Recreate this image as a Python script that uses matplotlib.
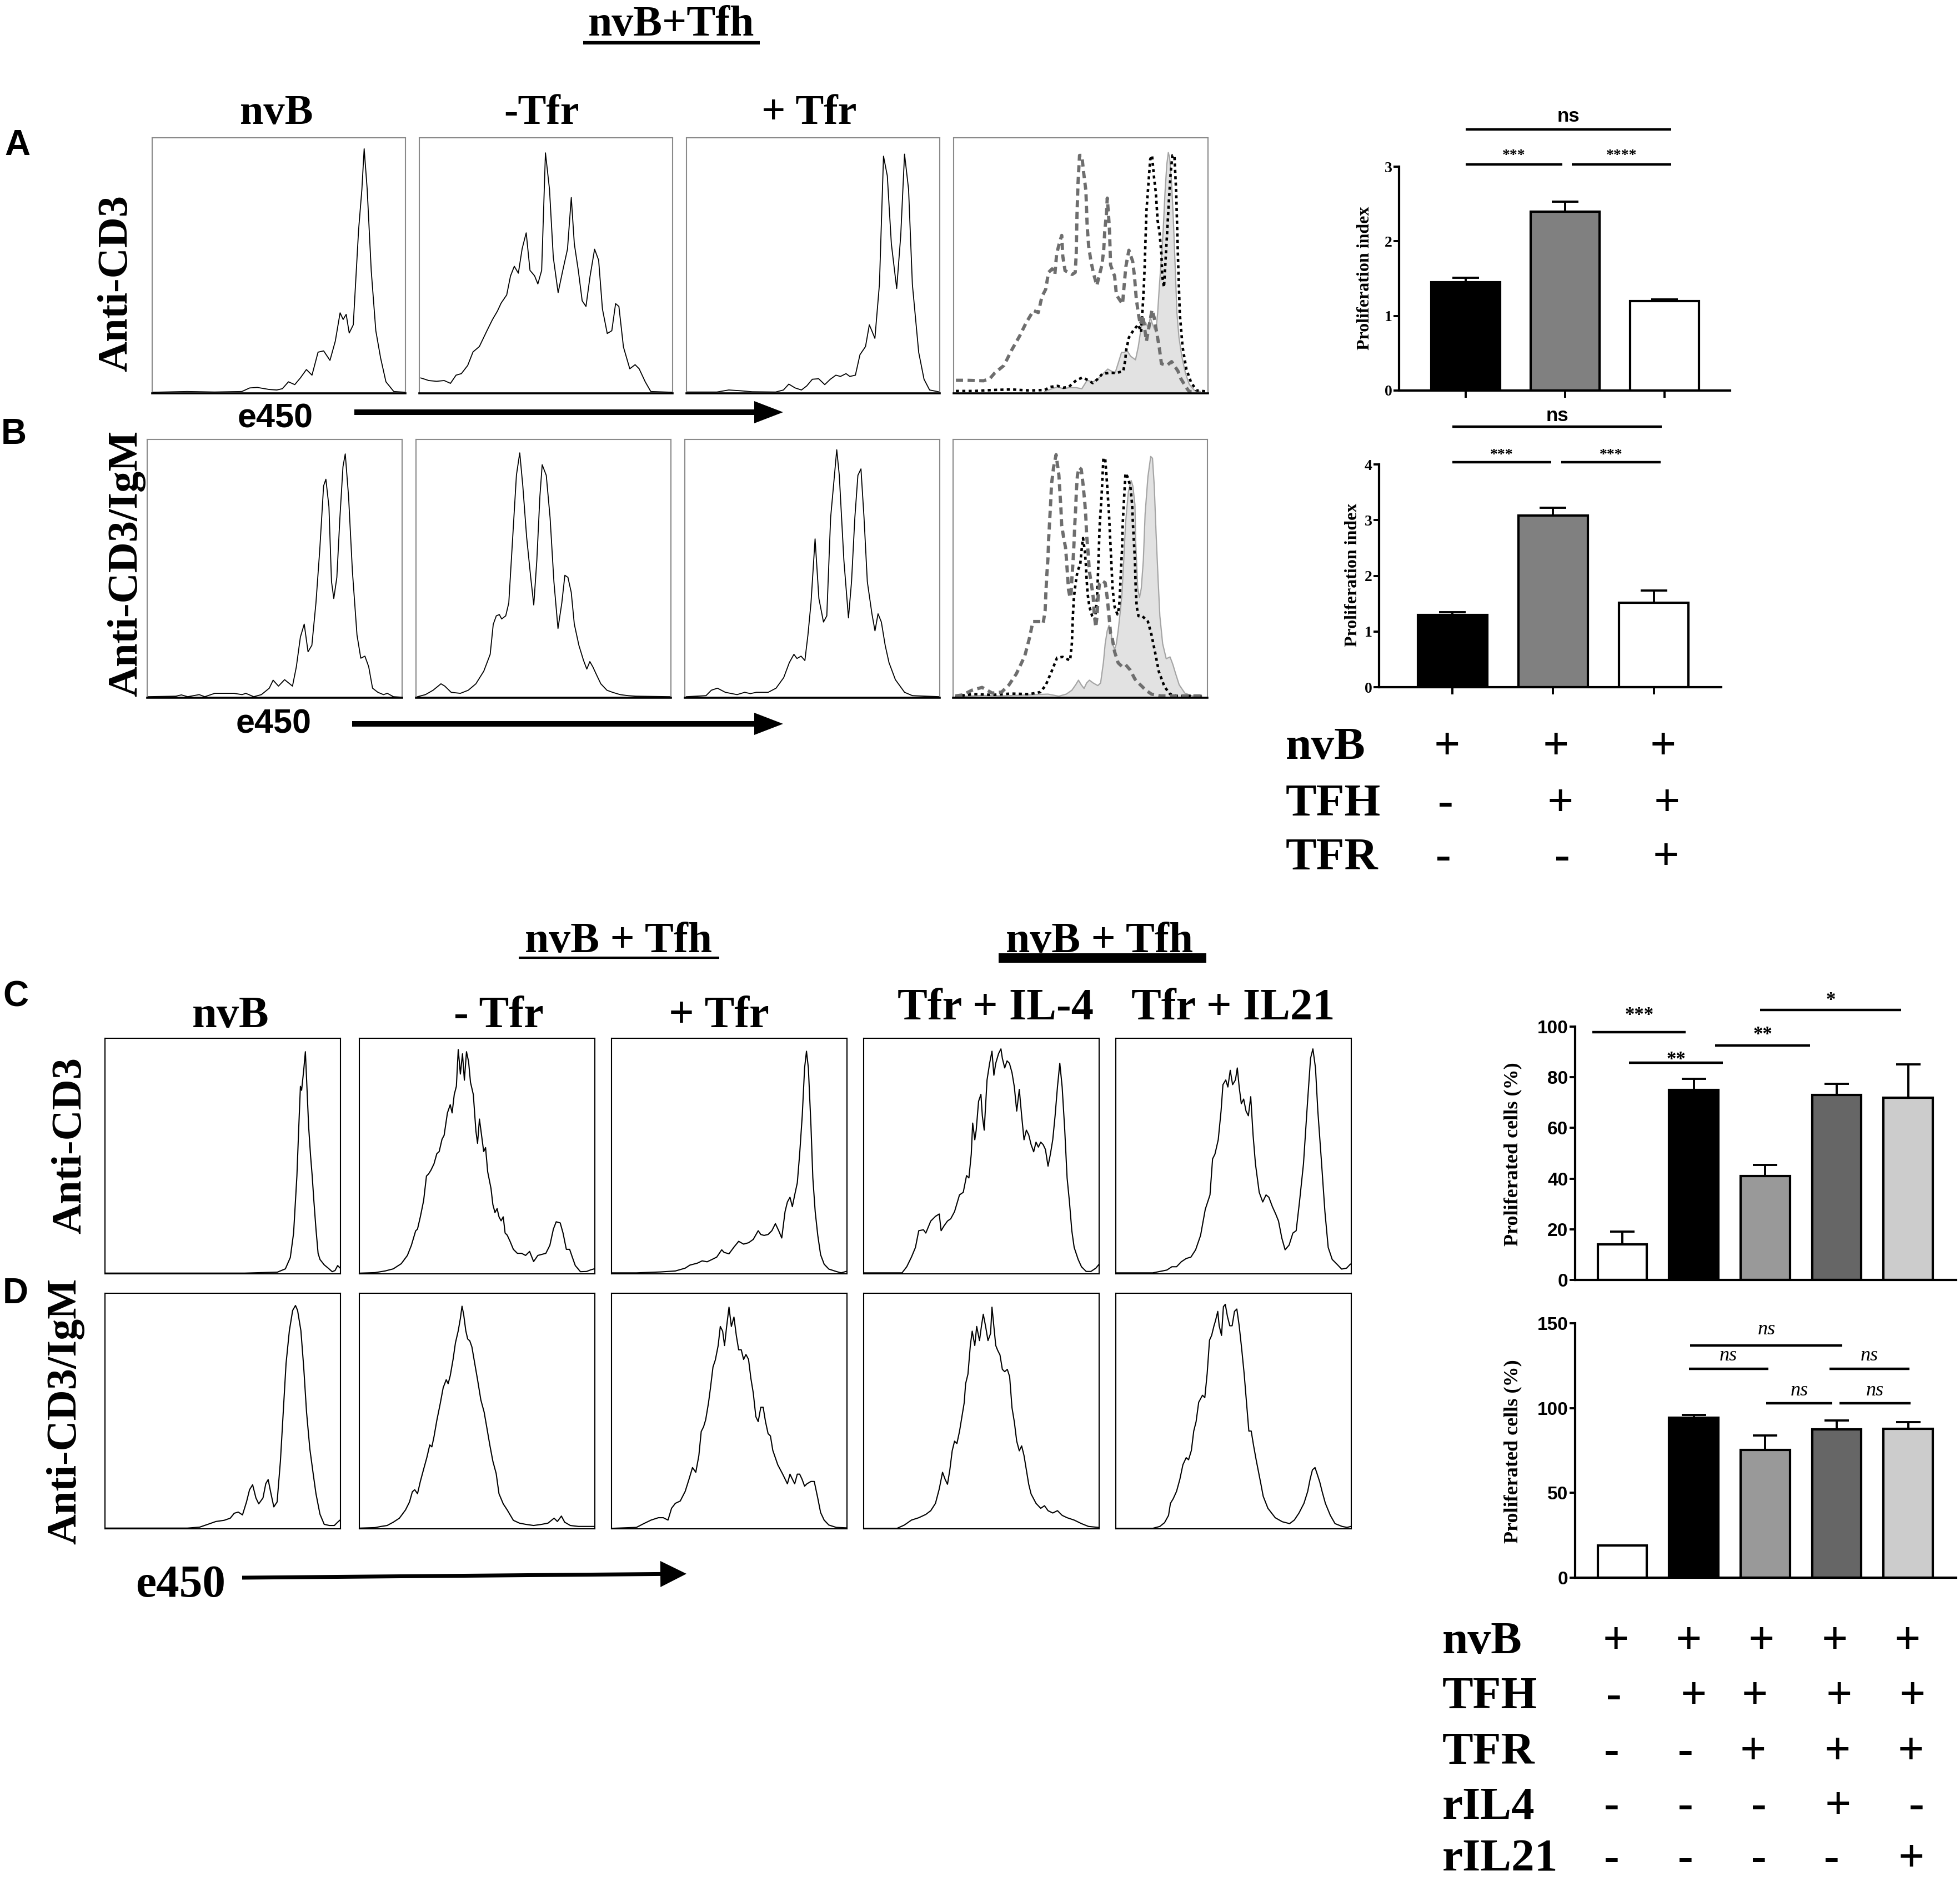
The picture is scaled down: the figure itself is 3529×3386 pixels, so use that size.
import numpy as np
import matplotlib
matplotlib.use("Agg")
from matplotlib import pyplot as plt
from matplotlib.patches import Rectangle

W, H = 3530, 3386
SERIF = "Liberation Serif"
SANS = "Liberation Sans"

# ---------------- histogram traces (x: % of box width, y: % of box height) ----------------
# panel A, anti-CD3
a_nvb = [(0, 0.4), (13.8, 0.7), (24.6, 0.5), (35.4, 0.7), (38.5, 2.1), (41.5, 2.3), (46.2, 1.5), (49.2, 1.3),
         (51.4, 1.8), (53.8, 4.5), (56.3, 3.4), (58.5, 6.0), (60.9, 9.3), (63.1, 7.1), (65.5, 16.1), (67.7, 16.6),
         (70.2, 12.9), (72.3, 20.4), (74.2, 31.5), (75.4, 28.9), (76.6, 30.9), (77.8, 23.6), (79.4, 26.8),
         (81.5, 63.9), (82.8, 79.8), (83.7, 95.7), (84.9, 79.8), (86.5, 47.9), (88.3, 24.5), (90.2, 13.8),
         (92.3, 4.5), (95.4, 0.7), (100, 0.4)]
a_notfr = [(0.6, 6.0), (2.2, 5.5), (3.7, 5.0), (6.8, 4.7), (9.8, 5.0), (12.3, 3.9), (14.5, 7.1), (16.6, 7.7),
           (19.1, 10.9), (21.2, 16.2), (23.7, 18.3), (26.8, 24.7), (28.9, 28.9), (30.8, 32.1), (32.3, 35.3),
           (34.5, 38.5), (36.0, 45.9), (37.5, 49.7), (39.1, 47.0), (40.6, 56.6), (42.2, 62.8), (43.7, 48.1),
           (45.5, 46.0), (46.8, 42.8), (48.3, 48.1), (49.8, 94.1), (51.4, 79.8), (52.9, 53.2), (54.8, 39.4),
           (56.6, 47.9), (58.5, 56.4), (60.0, 76.6), (61.2, 58.5), (62.8, 47.9), (64.3, 36.2), (65.8, 34.0),
           (67.4, 45.7), (69.2, 56.4), (70.8, 52.1), (72.3, 33.0), (74.2, 23.4), (76.0, 24.5), (77.5, 35.1),
           (78.8, 34.0), (80.6, 18.1), (83.1, 9.6), (85.2, 11.2), (86.8, 9.6), (89.2, 4.5), (91.4, 0.7), (100, 0.4)]
a_tfr = [(0, 0.5), (12.0, 0.5), (16.7, 1.3), (21.3, 1.0), (25.9, 0.6), (35.2, 0.5), (38.3, 1.3), (40.4, 3.6),
         (42.9, 2.1), (45.4, 1.3), (47.5, 2.9), (49.7, 5.5), (52.2, 5.7), (54.6, 3.4), (56.8, 5.5), (59.0, 7.1),
         (60.8, 6.6), (63.0, 7.7), (64.5, 6.6), (66.7, 7.1), (68.5, 15.1), (70.7, 18.3), (72.2, 26.8),
         (73.1, 24.7), (74.4, 21.5), (76.2, 42.8), (77.8, 92.8), (79.3, 85.1), (80.9, 58.5), (83.0, 41.0),
         (84.6, 61.7), (86.1, 93.6), (87.7, 79.8), (89.2, 42.6), (91.7, 16.0), (93.8, 5.5), (96.0, 1.3), (100, 0.5)]
# panel A overlay
a_ov_fill = [(35.8, 0.7), (38.7, 1.8), (40.9, 2.5), (43.1, 1.8), (45.3, 2.2), (48.2, 2.2), (50.4, 1.8),
             (52.5, 5.1), (54.7, 4.4), (56.9, 5.8), (59.1, 8.0), (60.6, 9.5), (62.0, 8.7), (63.5, 8.0),
             (64.9, 12.4), (66.0, 16.0), (67.1, 16.0), (68.2, 16.7), (69.6, 14.5), (71.5, 13.1), (72.6, 18.2),
             (73.7, 25.5), (74.4, 28.4), (75.5, 27.6), (76.6, 25.5), (77.3, 29.8), (78.0, 27.6), (78.8, 25.5),
             (79.5, 24.0), (80.2, 31.3), (80.9, 42.2), (81.7, 53.1), (82.4, 64.0), (83.1, 78.5), (83.8, 89.5),
             (84.4, 94.2), (84.9, 92.4), (85.7, 82.2), (86.4, 67.6), (87.1, 49.5), (87.8, 31.3), (88.6, 21.8),
             (89.7, 14.5), (91.1, 8.0), (92.6, 3.6), (94.7, 1.1), (96.9, 0.7)]
a_ov_dash = [(0.9, 5.1), (5.2, 5.1), (11.8, 4.9), (14.3, 5.8), (16.2, 8.0), (19.8, 10.9), (22.7, 16.7),
             (26.0, 22.5), (28.5, 27.6), (31.4, 32.4), (33.3, 31.6), (34.7, 37.8), (36.2, 40.7), (37.3, 47.3),
             (38.7, 48.7), (39.8, 46.5), (40.5, 54.5), (41.6, 58.9), (42.5, 61.8), (42.9, 53.8), (43.8, 48.0),
             (45.3, 47.3), (46.6, 46.5), (47.8, 47.3), (48.2, 54.5), (48.5, 69.8), (48.9, 82.2), (49.5, 93.1),
             (50.4, 93.1), (51.1, 86.5), (52.0, 79.3), (52.5, 65.5), (53.1, 57.5), (54.0, 51.6), (55.1, 46.5),
             (56.3, 42.2), (58.3, 50.2), (59.0, 56.0), (59.4, 63.3), (60.1, 70.5), (60.4, 76.4), (60.9, 69.8),
             (61.3, 63.3), (61.7, 50.2), (63.3, 45.8), (64.0, 38.5), (66.4, 34.9), (67.1, 42.9), (67.7, 49.5),
             (68.9, 56.0), (70.4, 51.6), (71.1, 45.8), (71.8, 37.1), (72.6, 31.3), (73.4, 26.9), (74.4, 30.5),
             (75.8, 20.4), (78.0, 32.7), (78.8, 29.8), (80.8, 18.2), (81.7, 11.6), (83.8, 10.9), (85.7, 12.4),
             (88.2, 8.7), (89.3, 5.8), (91.5, 2.2), (92.6, 0.7), (95.5, 0.7)]
a_ov_dot = [(0.9, 0.9), (8.2, 0.9), (15.4, 1.3), (22.7, 1.5), (30.0, 1.1), (35.8, 1.3), (38.0, 2.5), (40.9, 2.9),
            (43.1, 2.2), (45.3, 2.5), (48.2, 5.1), (50.7, 6.2), (52.9, 5.1), (54.7, 4.0), (56.9, 5.8), (58.4, 7.6),
            (61.3, 8.0), (64.2, 8.0), (66.7, 8.7), (67.5, 13.1), (67.8, 16.7), (68.9, 21.8), (70.7, 24.7),
            (72.6, 26.9), (73.7, 24.0), (74.4, 34.9), (74.8, 42.2), (75.1, 49.5), (75.8, 71.3), (76.6, 82.2),
            (77.3, 91.6), (78.0, 93.1), (78.8, 84.4), (79.5, 78.5), (80.2, 67.6), (80.9, 63.3), (81.7, 54.5),
            (82.0, 45.8), (82.7, 41.5), (83.8, 60.4), (84.6, 74.9), (85.3, 85.8), (86.0, 93.1), (86.8, 93.1),
            (87.5, 78.5), (88.2, 53.1), (88.9, 31.3), (90.0, 18.2), (91.5, 9.5), (93.3, 4.4), (95.5, 1.1), (99.9, 0.7)]

# panel B, anti-CD3/IgM
b_nvb = [(0, 0.4), (11.3, 0.6), (13.4, 1.1), (15.9, 0.4), (20.4, 1.2), (22.6, 0.4), (26.5, 1.7), (34.1, 1.7),
         (37.2, 1.2), (38.7, 1.7), (41.8, 0.4), (44.8, 1.2), (47.9, 3.7), (49.4, 6.8), (51.5, 4.5), (53.9, 7.0),
         (57.0, 4.5), (58.5, 11.9), (60.1, 23.5), (61.6, 28.5), (63.1, 17.8), (64.6, 20.3), (66.2, 36.7),
         (67.7, 57.3), (69.2, 82.0), (70.1, 84.6), (71.3, 73.9), (72.3, 45.0), (73.2, 38.4), (74.4, 46.6),
         (75.6, 69.7), (76.8, 89.4), (77.7, 94.4), (79.0, 77.9), (80.5, 49.0), (82.3, 24.3), (83.8, 15.3),
         (85.4, 16.1), (86.9, 12.0), (88.4, 3.7), (90.5, 2.1), (92.7, 1.2), (94.2, 1.7), (96.6, 0.4), (100, 0.2)]
b_notfr = [(0.6, 0.4), (3.7, 1.2), (6.7, 2.9), (9.8, 5.4), (11.3, 4.5), (13.8, 2.1), (17.4, 1.7), (20.5, 2.9),
           (23.5, 5.4), (26.6, 10.3), (29.1, 16.8), (30.3, 28.4), (31.5, 31.7), (32.7, 32.2), (33.6, 30.5),
           (35.2, 31.7), (36.4, 36.7), (37.9, 61.5), (39.4, 86.2), (40.7, 94.8), (41.9, 82.0), (43.4, 62.2),
           (45.0, 46.6), (46.2, 35.9), (47.4, 53.2), (48.6, 77.9), (49.5, 90.2), (51.1, 86.1), (52.6, 69.7),
           (54.1, 44.9), (55.7, 26.8), (57.2, 36.7), (58.4, 47.4), (59.6, 46.6), (60.9, 40.8), (62.1, 28.5),
           (63.9, 20.3), (65.7, 14.5), (67.0, 11.1), (68.2, 14.0), (69.4, 11.9), (70.9, 8.7), (72.5, 5.4),
           (74.9, 2.9), (77.1, 2.1), (80.1, 1.2), (83.2, 0.8), (86.2, 0.6), (100, 0.4)]
b_tfr = [(0.6, 0.4), (8.3, 0.8), (10.4, 2.9), (12.8, 3.7), (15.9, 2.1), (20.5, 1.2), (23.5, 2.1), (25.7, 1.6),
         (28.1, 2.1), (32.7, 2.1), (35.8, 3.7), (38.8, 7.8), (41.0, 13.6), (42.8, 16.8), (44.0, 15.2), (45.6, 16.1),
         (47.1, 14.4), (48.3, 24.3), (49.5, 36.7), (51.1, 61.5), (52.6, 38.4), (54.4, 29.3), (55.7, 31.7),
         (57.2, 69.7), (58.7, 86.1), (59.6, 96.0), (60.6, 86.1), (62.4, 53.2), (64.2, 30.9), (65.4, 44.9),
         (66.7, 69.7), (67.9, 86.1), (69.1, 88.6), (70.3, 69.7), (71.6, 44.9), (73.4, 32.5), (74.6, 25.9),
         (75.8, 32.5), (77.1, 29.3), (78.6, 20.3), (80.1, 13.6), (82.6, 7.0), (86.2, 2.1), (89.3, 0.8), (100, 0.4)]
# panel B overlay
b_ov_fill = [(0.9, 0.4), (11.8, 0.9), (19.1, 0.7), (30.0, 1.1), (37.3, 1.4), (41.6, 0.6), (44.5, 1.4), (46.7, 2.9),
             (48.2, 5.0), (49.3, 6.8), (50.4, 5.0), (51.5, 3.6), (52.5, 5.7), (53.6, 6.8), (55.1, 5.7), (56.9, 4.7),
             (58.0, 5.7), (59.1, 13.6), (59.8, 20.9), (60.6, 25.9), (61.3, 28.0), (62.0, 25.9), (62.7, 20.9),
             (63.5, 18.7), (64.2, 20.9), (64.9, 25.9), (65.7, 33.0), (66.4, 40.2), (67.1, 53.2), (67.8, 67.5),
             (68.9, 79.7), (70.0, 84.1), (70.7, 81.9), (71.5, 74.7), (71.8, 60.3), (72.6, 42.4), (73.3, 38.8),
             (74.0, 42.4), (74.8, 53.2), (75.5, 71.1), (76.6, 85.5), (77.7, 93.4), (78.4, 92.7), (79.1, 81.9),
             (79.8, 63.9), (80.6, 45.9), (81.3, 31.6), (82.4, 20.9), (83.8, 15.1), (85.3, 15.8), (86.4, 12.9),
             (87.5, 9.3), (88.9, 5.0), (91.1, 1.8), (94.0, 0.7), (97.7, 0.6)]
b_ov_dash = [(0.9, 0.7), (3.8, 1.1), (7.4, 2.9), (11.4, 4.0), (15.4, 1.8), (19.1, 2.2), (22.0, 5.0), (24.9, 9.3),
             (26.3, 12.2), (28.2, 16.2), (30.0, 23.0), (31.4, 29.5), (34.4, 29.5), (35.4, 28.7), (36.2, 33.8),
             (36.5, 40.9), (36.9, 48.1), (37.3, 53.9), (37.6, 61.8), (38.0, 69.0), (38.4, 76.1), (38.7, 82.6),
             (39.5, 89.1), (40.5, 94.1), (41.6, 86.2), (42.0, 79.7), (42.4, 73.3), (42.7, 66.8), (43.5, 61.8),
             (44.2, 58.2), (44.5, 54.6), (44.9, 48.9), (45.4, 41.7), (46.0, 38.8), (46.4, 40.2), (46.7, 46.0),
             (47.1, 51.7), (47.5, 58.9), (47.8, 66.1), (48.2, 73.3), (48.5, 80.5), (48.9, 86.2), (49.6, 89.1),
             (50.4, 88.4), (51.1, 82.6), (51.8, 75.4), (52.2, 69.7), (52.5, 63.2), (53.1, 56.0), (53.6, 48.9),
             (54.4, 43.9), (55.1, 38.8), (55.5, 32.3), (56.1, 27.3), (56.6, 31.6), (57.1, 40.2), (57.6, 44.5),
             (58.4, 45.3), (59.8, 44.5), (60.6, 38.8), (61.3, 31.6), (61.9, 25.1), (62.6, 22.9), (63.5, 17.8),
             (64.9, 13.5), (66.4, 12.1), (67.8, 12.8), (69.6, 10.8), (71.5, 7.2), (72.9, 5.7), (75.8, 2.9),
             (78.0, 1.4), (81.7, 0.7), (84.6, 0.7), (97.7, 0.7)]
b_ov_dot = [(0.9, 0.6), (8.2, 1.4), (15.4, 1.1), (22.7, 1.6), (30.0, 1.4), (34.4, 2.2), (36.5, 5.0), (38.7, 10.1),
            (40.9, 15.5), (43.1, 15.8), (46.0, 14.4), (46.7, 20.9), (47.1, 31.6), (47.5, 38.8), (48.2, 44.5),
            (48.9, 48.9), (50.0, 51.7), (50.7, 58.9), (51.1, 61.8), (51.8, 56.8), (52.2, 51.7), (52.5, 46.0),
            (52.9, 40.2), (53.6, 35.2), (54.7, 31.6), (55.8, 30.2), (56.6, 38.8), (56.9, 46.0), (57.3, 56.8),
            (57.6, 66.1), (58.4, 78.4), (59.1, 92.7), (59.8, 92.7), (60.6, 81.9), (61.3, 71.1), (62.0, 56.8),
            (62.7, 42.4), (63.5, 35.2), (64.6, 32.3), (65.3, 35.2), (65.7, 42.4), (66.0, 49.6), (66.4, 56.8),
            (66.7, 67.5), (67.1, 74.7), (67.5, 81.9), (67.8, 86.9), (68.6, 85.5), (69.7, 81.9), (70.4, 74.7),
            (70.7, 67.5), (71.1, 60.3), (71.5, 53.2), (71.8, 42.4), (72.2, 35.2), (72.9, 31.6), (74.4, 31.6),
            (76.6, 29.5), (78.0, 24.4), (79.5, 17.2), (80.9, 10.1), (83.1, 4.3), (85.3, 1.4), (88.2, 0.7), (97.7, 0.7)]

# panel C, anti-CD3
c_nvb = [(0.3, 0.3), (24.6, 0.3), (42.0, 0.3), (59.3, 0.3), (73.2, 0.7), (76.6, 2.1), (78.7, 6.9), (80.1, 17.3),
         (81.5, 41.5), (82.3, 62.3), (83.0, 79.6), (83.5, 77.9), (84.4, 86.5), (85.1, 94.3), (85.6, 83.0),
         (86.5, 62.3), (87.3, 50.2), (88.0, 41.5), (88.7, 31.1), (89.6, 19.0), (90.5, 8.7), (91.3, 6.1),
         (93.1, 3.8), (94.8, 2.4), (96.5, 0.9), (97.7, 1.4), (98.8, 3.5), (99.7, 2.6)]
c_notfr = [(0.5, 0.3), (6.6, 0.5), (10.9, 1.2), (14.4, 2.1), (17.8, 4.3), (20.4, 7.8), (22.1, 12.1), (23.9, 18.2),
           (24.7, 19.0), (25.9, 24.2), (27.3, 31.1), (28.5, 41.5), (29.4, 42.4), (30.4, 44.0), (31.7, 46.7),
           (32.9, 51.0), (33.9, 51.9), (35.1, 57.1), (36.0, 58.8), (37.4, 68.3), (38.6, 71.8), (39.4, 68.3),
           (40.3, 76.1), (41.2, 79.6), (42.0, 95.2), (42.9, 84.8), (43.8, 93.4), (44.6, 82.2), (45.5, 94.3),
           (46.4, 90.0), (47.2, 81.3), (48.4, 76.1), (49.5, 60.6), (50.2, 55.4), (51.0, 65.7), (51.9, 58.8),
           (52.8, 51.9), (53.6, 53.6), (54.5, 43.3), (55.9, 36.3), (56.7, 29.4), (57.6, 26.0), (58.5, 27.7),
           (59.3, 24.2), (60.2, 22.5), (61.1, 24.2), (61.9, 17.3), (62.8, 16.4), (64.0, 13.8), (65.4, 10.4),
           (67.1, 8.7), (68.9, 8.7), (70.6, 7.8), (72.3, 9.5), (74.0, 5.2), (75.8, 7.8), (79.2, 8.7), (80.9, 12.1),
           (82.4, 19.0), (83.6, 22.1), (85.3, 21.6), (86.5, 17.3), (87.9, 10.4), (89.3, 10.4), (90.5, 6.9),
           (91.7, 3.5), (93.9, 0.9), (96.5, 1.0), (98.3, 1.7), (99.7, 2.1)]
c_tfr = [(0.2, 0.4), (10.6, 0.4), (20.9, 0.8), (27.1, 1.2), (31.3, 2.4), (33.3, 3.7), (36.4, 4.5), (38.5, 5.5),
         (40.6, 5.1), (42.7, 6.1), (44.7, 7.1), (46.8, 10.2), (47.8, 9.1), (49.9, 8.5), (51.9, 11.2), (54.0, 13.8),
         (56.1, 12.6), (58.2, 13.2), (60.2, 14.6), (62.3, 18.3), (63.4, 16.7), (64.8, 16.3), (66.5, 16.7),
         (68.1, 18.3), (69.6, 21.3), (71.0, 18.3), (72.3, 15.2), (73.7, 26.4), (74.7, 30.5), (75.8, 32.5),
         (76.8, 28.5), (77.8, 33.5), (78.9, 38.6), (79.9, 50.8), (81.0, 67.1), (82.0, 87.4), (82.8, 94.5),
         (83.6, 87.4), (84.7, 63.0), (85.5, 40.7), (86.5, 26.4), (87.6, 16.3), (88.8, 8.1), (90.3, 4.1),
         (92.3, 2.0), (95.4, 1.0), (97.5, 0.4), (99.6, 1.0)]
c_il4 = [(0.4, 0.4), (16.3, 0.4), (18.3, 3.0), (20.3, 7.1), (22.0, 11.2), (23.4, 18.3), (25.4, 18.7), (26.4, 17.3),
         (28.5, 22.4), (30.5, 24.4), (32.1, 25.4), (32.9, 18.3), (34.1, 20.3), (35.6, 22.4), (37.0, 23.4),
         (38.6, 26.4), (40.7, 33.5), (42.3, 34.6), (43.7, 41.7), (44.7, 40.7), (45.7, 50.8), (46.3, 64.0),
         (47.2, 56.9), (47.8, 61.0), (48.8, 73.2), (49.8, 76.2), (50.4, 67.1), (51.2, 61.0), (52.4, 82.3),
         (53.5, 89.4), (54.5, 94.5), (55.3, 84.3), (56.1, 89.4), (57.3, 93.5), (58.3, 95.5), (58.9, 91.5),
         (59.9, 87.4), (60.9, 90.4), (61.9, 89.4), (63.0, 85.4), (64.0, 79.3), (65.0, 69.1), (66.1, 78.3),
         (67.1, 67.1), (68.1, 56.9), (69.1, 61.0), (70.1, 59.0), (71.1, 54.9), (72.2, 51.8), (73.2, 55.9),
         (74.2, 53.8), (75.2, 55.9), (76.2, 54.9), (77.2, 52.8), (78.3, 45.7), (79.3, 50.8), (80.3, 56.9),
         (81.3, 67.1), (82.3, 79.3), (83.3, 89.4), (84.3, 79.3), (85.4, 61.0), (86.4, 40.7), (87.4, 30.5),
         (88.4, 18.3), (89.4, 11.2), (91.1, 6.1), (92.5, 3.0), (94.5, 1.0), (96.5, 1.0), (98.6, 2.4), (100, 4.1)]
c_il21 = [(0.4, 0.4), (15.7, 0.4), (18.7, 1.0), (21.7, 1.6), (23.8, 3.0), (25.8, 3.0), (27.8, 5.1), (29.9, 6.5),
          (31.9, 7.1), (33.9, 10.2), (36.0, 16.3), (38.0, 27.4), (40.0, 33.5), (41.1, 48.8), (42.1, 50.8),
          (43.5, 56.9), (44.7, 69.1), (45.5, 80.3), (46.7, 82.3), (47.6, 79.3), (48.6, 86.4), (49.6, 80.3),
          (50.8, 82.3), (51.6, 87.4), (52.4, 79.3), (53.3, 72.2), (54.3, 74.2), (55.3, 69.1), (56.3, 67.1),
          (57.3, 75.2), (58.3, 58.9), (59.3, 46.7), (60.9, 34.6), (62.4, 30.5), (63.8, 33.5), (65.0, 32.5),
          (66.5, 28.5), (67.9, 25.4), (69.1, 22.4), (70.5, 15.2), (71.9, 10.2), (73.6, 12.2), (75.2, 17.3),
          (76.6, 18.3), (78.0, 30.5), (79.7, 46.7), (81.3, 71.1), (82.7, 91.5), (83.7, 95.5), (84.8, 87.4),
          (85.8, 69.1), (87.4, 46.7), (88.8, 26.4), (90.2, 11.2), (91.9, 6.1), (93.9, 4.1), (95.9, 2.0),
          (98.0, 2.4), (99.6, 4.1)]

# panel D, anti-CD3/IgM
d_nvb = [(0.3, 0.3), (24.6, 0.3), (35.0, 0.3), (40.2, 0.7), (43.7, 1.9), (47.1, 3.1), (50.6, 3.6), (53.2, 4.5),
         (54.9, 6.6), (56.6, 7.1), (58.4, 5.9), (60.1, 11.4), (61.4, 16.6), (62.7, 18.7), (64.1, 13.1),
         (65.3, 10.6), (67.1, 13.1), (68.3, 19.2), (69.3, 20.9), (70.5, 14.9), (71.7, 9.3), (73.1, 11.4),
         (74.5, 28.7), (75.7, 49.5), (76.9, 70.2), (78.3, 84.1), (79.7, 92.7), (80.9, 94.8), (81.8, 92.7),
         (83.2, 84.1), (84.4, 68.5), (85.6, 49.5), (87.0, 33.9), (88.4, 23.5), (89.6, 14.9), (91.3, 6.2),
         (93.1, 1.9), (95.3, 1.4), (97.4, 1.4), (98.8, 2.8), (99.7, 3.6)]
d_notfr = [(0.5, 0.3), (6.6, 0.5), (9.2, 1.0), (11.8, 1.4), (14.4, 2.8), (17.0, 4.5), (19.6, 8.0), (21.3, 11.4),
           (22.5, 15.7), (23.5, 16.6), (24.7, 14.9), (25.9, 20.1), (27.3, 25.3), (28.7, 30.4), (29.9, 35.6),
           (30.8, 34.8), (31.7, 39.1), (32.9, 46.0), (34.3, 52.9), (35.6, 59.9), (36.9, 63.3), (37.7, 61.6),
           (38.6, 65.0), (39.8, 71.9), (40.8, 78.9), (42.0, 84.1), (42.9, 89.3), (43.6, 94.5), (44.3, 91.0),
           (45.2, 84.1), (46.0, 80.6), (46.9, 79.8), (47.8, 77.2), (49.0, 70.2), (50.2, 63.3), (51.6, 54.7),
           (53.0, 49.5), (54.2, 42.6), (55.4, 35.6), (56.7, 28.7), (58.1, 23.5), (59.3, 14.9), (61.1, 10.6),
           (62.8, 8.0), (65.4, 3.6), (68.0, 2.4), (70.6, 1.9), (74.0, 1.4), (77.5, 1.9), (80.1, 2.4), (82.7, 4.5),
           (84.1, 3.1), (85.8, 5.4), (87.2, 2.8), (89.6, 1.4), (93.1, 1.0), (96.5, 1.0), (99.7, 1.0)]
d_tfr = [(0.2, 0.2), (10.6, 0.6), (13.7, 2.2), (16.8, 3.7), (19.9, 4.7), (22.0, 4.7), (24.0, 3.7), (25.5, 8.7),
         (27.1, 10.8), (29.2, 11.8), (31.3, 15.9), (32.9, 21.0), (34.4, 26.0), (35.8, 24.0), (37.1, 31.1),
         (38.1, 41.3), (39.1, 43.3), (40.0, 46.3), (41.2, 53.5), (42.0, 59.6), (43.1, 68.7), (44.1, 71.7),
         (45.3, 77.8), (46.2, 85.9), (47.2, 83.9), (48.0, 77.8), (48.9, 85.9), (49.9, 94.1), (50.9, 85.9),
         (52.0, 89.9), (53.0, 82.1), (54.0, 76.0), (55.1, 76.0), (56.1, 71.9), (57.1, 74.0), (58.2, 71.9),
         (59.2, 63.8), (60.2, 57.7), (61.3, 47.6), (62.3, 45.5), (63.4, 51.6), (64.4, 51.6), (65.4, 45.5),
         (66.5, 40.4), (67.5, 39.4), (68.5, 33.3), (70.6, 27.2), (72.7, 23.2), (74.7, 19.1), (75.8, 23.2),
         (76.8, 21.1), (77.8, 19.1), (78.9, 23.2), (79.9, 23.2), (80.9, 21.1), (82.0, 18.1), (83.0, 19.1),
         (84.7, 20.1), (86.1, 20.1), (87.6, 13.0), (88.8, 6.9), (90.3, 3.7), (92.3, 1.6), (95.4, 0.6), (99.6, 0.4)]
d_il4 = [(0.4, 0.2), (14.2, 0.2), (17.3, 1.6), (20.3, 3.7), (23.4, 4.7), (26.4, 6.1), (28.5, 7.7), (30.5, 10.8),
         (32.1, 16.9), (33.5, 24.0), (34.6, 21.0), (35.6, 18.9), (36.6, 25.0), (37.6, 33.1), (38.6, 37.2),
         (39.6, 36.2), (40.7, 41.3), (41.7, 47.4), (42.7, 53.5), (43.3, 61.6), (44.3, 65.7), (45.3, 77.8),
         (46.1, 83.9), (47.2, 77.8), (48.0, 85.9), (49.2, 79.9), (50.0, 85.9), (50.8, 91.1), (51.8, 85.9),
         (52.8, 79.9), (53.9, 82.9), (54.5, 94.1), (55.3, 85.9), (56.1, 77.8), (56.9, 75.8), (57.9, 73.8),
         (58.9, 67.7), (59.9, 66.7), (61.0, 67.7), (62.0, 64.6), (63.0, 51.4), (64.0, 45.3), (65.0, 37.2),
         (66.1, 33.1), (67.1, 35.2), (68.1, 31.1), (69.1, 25.0), (70.1, 18.9), (71.1, 14.8), (73.2, 10.8),
         (75.2, 8.7), (76.8, 9.8), (78.3, 7.7), (80.3, 6.7), (82.3, 7.7), (84.3, 5.7), (86.4, 4.7), (89.4, 3.7),
         (92.5, 2.2), (95.5, 1.0), (99.6, 0.6)]
d_il21 = [(0.4, 0.2), (15.7, 0.2), (18.7, 1.0), (20.7, 2.6), (22.4, 5.7), (23.2, 10.8), (24.4, 12.8), (25.8, 15.9),
          (27.2, 21.0), (28.5, 27.2), (29.9, 30.2), (30.9, 29.3), (32.1, 33.3), (33.1, 41.5), (34.1, 45.5),
          (35.2, 53.7), (36.8, 56.7), (37.8, 55.7), (38.8, 65.9), (39.8, 80.1), (40.7, 82.1), (41.7, 86.2),
          (42.3, 88.2), (43.3, 92.3), (43.9, 86.2), (44.9, 82.1), (45.7, 94.3), (46.5, 95.3), (47.4, 90.2),
          (48.4, 86.2), (49.4, 86.2), (50.4, 92.3), (51.4, 93.3), (52.4, 86.2), (53.5, 76.0), (54.5, 65.9),
          (55.5, 53.7), (56.5, 41.5), (57.5, 41.5), (58.5, 35.4), (59.6, 29.3), (60.6, 24.2), (61.6, 19.1),
          (62.6, 13.8), (64.6, 8.7), (67.7, 4.7), (70.7, 3.0), (73.8, 2.2), (75.8, 3.7), (77.8, 6.7), (79.9, 10.8),
          (81.5, 15.9), (82.5, 21.0), (83.5, 25.0), (84.6, 26.0), (85.6, 23.0), (86.6, 19.9), (87.6, 15.9),
          (89.0, 10.8), (91.1, 5.7), (93.1, 2.2), (96.1, 1.0), (98.2, 0.6), (99.8, 1.0)]

# ---------------- bar chart data ----------------
ab_groups = ["nvB", "nvB+TFH", "nvB+TFH+TFR"]
a_index = [1.45, 2.40, 1.20]
a_err = [0.06, 0.13, 0.02]
b_index = [1.30, 3.08, 1.52]
b_err = [0.05, 0.14, 0.22]
ab_colors = ["black", "#808080", "white"]

cd_groups = ["nvB", "nvB+TFH", "+TFR", "+TFR+rIL4", "+TFR+rIL21"]
c_prolif = [14.0, 75.0, 41.0, 73.0, 72.0]
c_err = [5.0, 4.4, 4.4, 4.5, 13.0]
d_prolif = [19.0, 94.3, 75.3, 87.5, 87.8]
d_err = [0.0, 1.6, 8.6, 5.3, 3.9]
cd_colors = ["white", "black", "#999999", "#666666", "#cccccc"]

# significance: (start, end, line height, text baseline, label)
a_sig = [(0, 0.97, 3.03, 3.10, "***"), (1.07, 2.07, 3.03, 3.10, "****"), (0, 2.07, 3.50, 3.60, "ns")]
b_sig = [(0, 0.98, 4.04, 4.10, "***"), (1.08, 2.07, 4.04, 4.10, "***"), (0, 2.08, 4.68, 4.78, "ns")]
c_sig = [(-0.42, 0.89, 97.9, 102.5, "***"), (0.09, 1.41, 85.7, 84.8, "**"),
         (1.30, 2.63, 92.5, 94.8, "**"), (1.93, 3.90, 106.6, 108.4, "*")]
d_sig = [(0.95, 3.08, 136.9, 143.5, "ns"), (0.93, 2.04, 123.1, 127.9, "ns"), (2.90, 4.02, 123.1, 127.9, "ns"),
         (2.01, 2.94, 102.7, 107.5, "ns"), (3.04, 4.03, 102.7, 107.5, "ns")]

# +/- tables
ab_rows = ["nvB", "TFH", "TFR"]
ab_signs = [["+", "+", "+"], ["-", "+", "+"], ["-", "-", "+"]]
cd_rows = ["nvB", "TFH", "TFR", "rIL4", "rIL21"]
cd_signs = [["+", "+", "+", "+", "+"],
            ["-", "+", "+", "+", "+"],
            ["-", "-", "+", "+", "+"],
            ["-", "-", "-", "+", "-"],
            ["-", "-", "-", "-", "+"]]

top_headers = ["nvB", "-Tfr", "+ Tfr"]
low_headers = ["nvB", "- Tfr", "+ Tfr", "Tfr + IL-4", "Tfr + IL21"]

fig = plt.figure(figsize=(W / 100, H / 100), dpi=100)


def px_ax(x0, y0, x1, y1):
    return fig.add_axes([x0 / W, 1 - y1 / H, (x1 - x0) / W, (y1 - y0) / H])


def hist_box(x0, y0, x1, y1, style):
    ax = px_ax(x0, y0, x1, y1)
    ax.set_xlim(0, 100)
    ax.set_ylim(0, 100)
    ax.set_xticks([])
    ax.set_yticks([])
    if style == "top":
        for s in ["left", "right", "top"]:
            ax.spines[s].set_color("#8a8a8a")
            ax.spines[s].set_linewidth(1.5)
        ax.spines["bottom"].set_color("black")
        ax.spines["bottom"].set_linewidth(2.6)
    else:
        for s in ax.spines.values():
            s.set_color("black")
            s.set_linewidth(1.5)
    return ax


def trace(ax, pts, **kw):
    xy = np.array(pts).T
    ax.plot(xy[0], xy[1], clip_on=False, **kw)


# ---------------- flow histograms ----------------
a_left = [274, 755, 1236, 1717]
b_left = [265, 749, 1233, 1716]
for i, pts in enumerate([a_nvb, a_notfr, a_tfr]):
    ax = hist_box(a_left[i], 248, a_left[i] + 456, 708, "top")
    trace(ax, pts, color="black", lw=1.3)
for i, pts in enumerate([b_nvb, b_notfr, b_tfr]):
    ax = hist_box(b_left[i], 791, b_left[i] + 459, 1256, "top")
    trace(ax, pts, color="black", lw=1.3)

for x0, y0, y1, fill, dash, dot in [(a_left[3], 248, 708, a_ov_fill, a_ov_dash, a_ov_dot),
                                    (b_left[3], 791, 1256, b_ov_fill, b_ov_dash, b_ov_dot)]:
    ax = hist_box(x0, y0, x0 + 458, y1, "top")
    fx, fy = np.array(fill).T
    ax.fill_between(fx, 0, fy, color="#e2e2e2", lw=0)
    ax.plot(fx, fy, color="#a5a5a5", lw=1.6)
    trace(ax, dot, color="black", lw=3.3, ls=(0, (1.2, 1.3)))
    trace(ax, dash, color="#6e6e6e", lw=4.2, ls=(0, (2.2, 1.4)))

cd_left = [189, 647, 1101, 1555, 2009]
for i, pts in enumerate([c_nvb, c_notfr, c_tfr, c_il4, c_il21]):
    ax = hist_box(cd_left[i], 1869, cd_left[i] + 424, 2293, "low")
    trace(ax, pts, color="black", lw=1.5)
for i, pts in enumerate([d_nvb, d_notfr, d_tfr, d_il4, d_il21]):
    ax = hist_box(cd_left[i], 2328, cd_left[i] + 424, 2752, "low")
    trace(ax, pts, color="black", lw=1.5)


# ---------------- bar charts ----------------
def bar_panel(box, xlim, vals, errs, colors, yticks, tickfont, ticksize, sig, sigfont, xticks, capsize):
    ax = px_ax(*box)
    pos = np.arange(len(vals))
    ax.errorbar(pos, vals, yerr=[np.zeros(len(vals)), errs], fmt="none", ecolor="black",
                elinewidth=2.8, capsize=capsize, capthick=2.8, zorder=1)
    ax.bar(pos, vals, width=0.69, color=colors, edgecolor="black", linewidth=3.0, zorder=2)
    ax.set_xlim(*xlim)
    ax.set_ylim(yticks[0], yticks[-1])
    ax.set_yticks(yticks)
    ax.set_yticklabels([str(t) for t in yticks], family=tickfont, weight="bold", fontsize=ticksize)
    for s in ["top", "right"]:
        ax.spines[s].set_visible(False)
    for s in ["left", "bottom"]:
        ax.spines[s].set_linewidth(3.0)
    ax.tick_params(axis="y", direction="out", length=7, width=2.8, pad=2)
    if xticks:
        ax.set_xticks(pos)
        ax.set_xticklabels([])
        ax.tick_params(axis="x", direction="out", length=9, width=2.8)
    else:
        ax.set_xticks([])
    ax.patch.set_alpha(0)
    for x1, x2, yl, yt, lab in sig:
        ax.plot([x1, x2], [yl, yl], color="black", lw=3.2, clip_on=False, solid_capstyle="butt")
        ax.text((x1 + x2) / 2, yt, lab, ha="center", va="baseline", clip_on=False, **sigfont[lab])
    return ax


star_serif = dict(family=SERIF, weight="bold", fontsize=20)
ns_sans = dict(family=SANS, weight="bold", fontsize=25)
ab_font = {"***": star_serif, "****": star_serif, "ns": ns_sans}
bar_panel((2519, 300, 3115, 703), (-0.67, 2.66), a_index, a_err, ab_colors, [0, 1, 2, 3],
          SERIF, 20, a_sig, ab_font, True, 17)
bar_panel((2483, 836, 3099, 1237), (-0.73, 2.67), b_index, b_err, ab_colors, [0, 1, 2, 3, 4],
          SERIF, 20, b_sig, ab_font, True, 17)

star_c = dict(family=SERIF, weight="bold", fontsize=25)
ns_it = dict(family=SERIF, style="italic", fontsize=26)
cd_font = {"***": star_c, "**": star_c, "*": star_c, "ns": ns_it}
bar_panel((2836, 1848, 3522, 2304), (-0.66, 4.67), c_prolif, c_err, cd_colors, [0, 20, 40, 60, 80, 100],
          SANS, 24, c_sig, cd_font, False, 16)
bar_panel((2836, 2382, 3522, 2840), (-0.66, 4.67), d_prolif, d_err, cd_colors, [0, 50, 100, 150],
          SANS, 24, d_sig, cd_font, False, 16)

# ---------------- text layer ----------------
ov = fig.add_axes([0, 0, 1, 1])
ov.set_xlim(0, W)
ov.set_ylim(H, 0)
ov.axis("off")
ov.patch.set_alpha(0)


def txt(x, y, s, size, family=SERIF, **kw):
    kw.setdefault("ha", "center")
    kw.setdefault("va", "baseline")
    ov.text(x, y, s, fontsize=size, family=family, weight="bold", **kw)


# titles
txt(1209, 64, "nvB+Tfh", 56)
ov.plot([1050, 1368], [77, 77], color="black", lw=4.5, solid_capstyle="butt")
for x, lab in zip([498, 975, 1457], top_headers):
    txt(x, 223, lab, 55)

txt(1114, 1714, "nvB + Tfh", 56)
ov.plot([934, 1295], [1724, 1724], color="black", lw=3.0, solid_capstyle="butt")
txt(1980, 1714, "nvB + Tfh", 56)
ov.add_patch(Rectangle((1798, 1716), 374, 17, color="black", lw=0))
for x, y, lab in zip([415, 898, 1294, 1793, 2220], [1849, 1849, 1849, 1835, 1835], low_headers):
    txt(x, y, lab, 58)

# panel letters
for x, y, lab in [(31, 262, "A"), (25, 782, "B"), (28, 1794, "C"), (28, 2329, "D")]:
    txt(x, y, lab, 46, family=SANS, va="center")

# row labels
txt(210, 510, "Anti-CD3", 55, rotation=90, va="center")
txt(228, 1014, "Anti-CD3/IgM", 55, rotation=90, va="center")
txt(127, 2062, "Anti-CD3", 55, rotation=90, va="center")
txt(118, 2540, "Anti-CD3/IgM", 55, rotation=90, va="center")

# e450 axes arrows
txt(496, 754, "e450", 44, family=SANS, va="center")
txt(493, 1304, "e450", 44, family=SANS, va="center")
txt(325, 2854, "e450", 60, va="center")
ov.arrow(638, 742, 772, 0, width=10, head_width=40, head_length=52, length_includes_head=True,
         color="black", lw=0)
ov.arrow(634, 1303, 776, 0, width=10, head_width=40, head_length=52, length_includes_head=True,
         color="black", lw=0)
ov.arrow(436, 2840, 800, -7, width=7, head_width=47, head_length=47, length_includes_head=True,
         color="black", lw=0)

# bar y labels
txt(2458, 501, "Proliferation index", 23, rotation=90, va="center")
txt(2436, 1035, "Proliferation index", 23, rotation=90, va="center")
txt(2724, 2078, "Proliferated cells (%)", 26, rotation=90, va="center")
txt(2724, 2613, "Proliferated cells (%)", 26, rotation=90, va="center")

# +/- tables
ab_cols = [[2605, 2801, 2994], [2603, 2809, 3001], [2599, 2813, 2999]]
for r, (lab, y) in enumerate(zip(ab_rows, [1366, 1468, 1565])):
    txt(2315, y, lab, 60, ha="left")
    for x, s in zip(ab_cols[r], ab_signs[r]):
        txt(x, y, s, 60)

cd_cols = [[2909, 3040, 3171, 3303, 3434], [2906, 3049, 3159, 3311, 3443], [2902, 3035, 3156, 3308, 3440],
           [2902, 3035, 3167, 3309, 3451], [2902, 3035, 3167, 3298, 3441]]
for r, (lab, y) in enumerate(zip(cd_rows, [2976, 3075, 3175, 3273, 3368])):
    txt(2597, y, lab, 60, ha="left")
    for x, s in zip(cd_cols[r], cd_signs[r]):
        txt(x, y, s, 60)

fig.savefig("out.png", dpi=100, facecolor="white")
